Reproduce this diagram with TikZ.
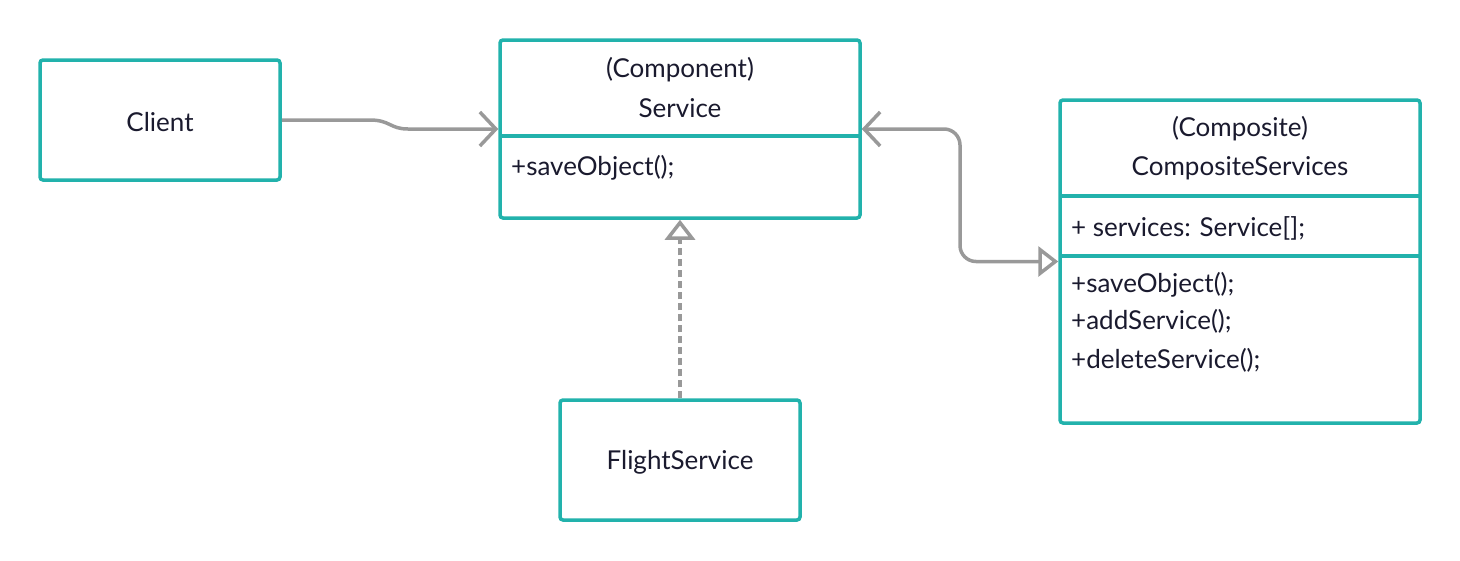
\documentclass[tikz,border=0pt]{standalone}
\usepackage{fontspec}
\setmainfont{Lato}
\usetikzlibrary{arrows.meta,calc}
\definecolor{teal}{HTML}{22B2AC}
\definecolor{conn}{HTML}{999999}
\definecolor{txt}{HTML}{1A1A2E}
\tikzset{
  box/.style={draw=teal, line width=3.5pt, rounded corners=3pt, inner sep=0pt, fill=white},
  lbl/.style={text=txt, font=\fontsize{26}{30}\selectfont, inner sep=0pt},
  llbl/.style={lbl, anchor=west},
  divider/.style={draw=teal, line width=3.5pt},
  conline/.style={draw=conn, line width=3.5pt},
  chev/.tip={Straight Barb[length=16pt, width=34pt, line width=3.5pt]},
  tri/.tip={Triangle[open, length=20pt, width=30pt, line width=3.5pt]}
}
\begin{document}
\begin{tikzpicture}[x=1pt,y=-1pt]
\useasboundingbox (0,0) rectangle (1460,560);
% boxes
\node[box, minimum width=240pt, minimum height=120pt] (client) at (160,120) {};
\node[lbl] (clientt) at (160,122) {Client};

\node[box, minimum width=360pt, minimum height=178pt] (service) at (680,129) {};
\coordinate (sdl) at (500,136); \coordinate (sdr) at (860,136);
\draw[divider] (sdl) -- (sdr);
\node[lbl] (s1) at (680,70) {(Component)};
\node[lbl] (s2) at (680,108) {Service};
\node[llbl] (s3) at (511,168) {+saveObject();};

\node[box, minimum width=240pt, minimum height=120pt] (flight) at (680,460) {};
\node[lbl] (flightt) at (680,462) {FlightService};

\node[box, minimum width=360pt, minimum height=323pt] (comp) at (1240,261.5) {};
\coordinate (c1l) at (1060,196); \coordinate (c1r) at (1420,196);
\coordinate (c2l) at (1060,256); \coordinate (c2r) at (1420,256);
\draw[divider] (c1l) -- (c1r);
\draw[divider] (c2l) -- (c2r);
\node[lbl] (ct1) at (1240,129) {(Composite)};
\node[lbl] (ct2) at (1240,168) {CompositeServices};
\node[llbl] (ct3) at (1071,228) {+ services: Service[];};
\node[llbl] (ct4) at (1071,285) {+saveObject();};
\node[llbl] (ct5) at (1071,321) {+addService();};
\node[llbl] (ct6) at (1071,360) {+deleteService();};

% connectors
\coordinate (k1) at (370,120);
\coordinate (k2) at (408,129);
\draw[conline, -{chev}] (client.east) -- (k1) .. controls (390,120) and (390,129) .. (k2) -- (service.west);

\coordinate (b1) at (960,129);
\coordinate (b2) at (960,261.5);
\draw[conline, {chev}-{tri}, rounded corners=16pt] (service.east) -- (b1) -- (b2) -- (comp.west);

\draw[conline, dash pattern=on 7pt off 4pt, -{tri}] (flight.north) -- (service.south);
\end{tikzpicture}
\end{document}
